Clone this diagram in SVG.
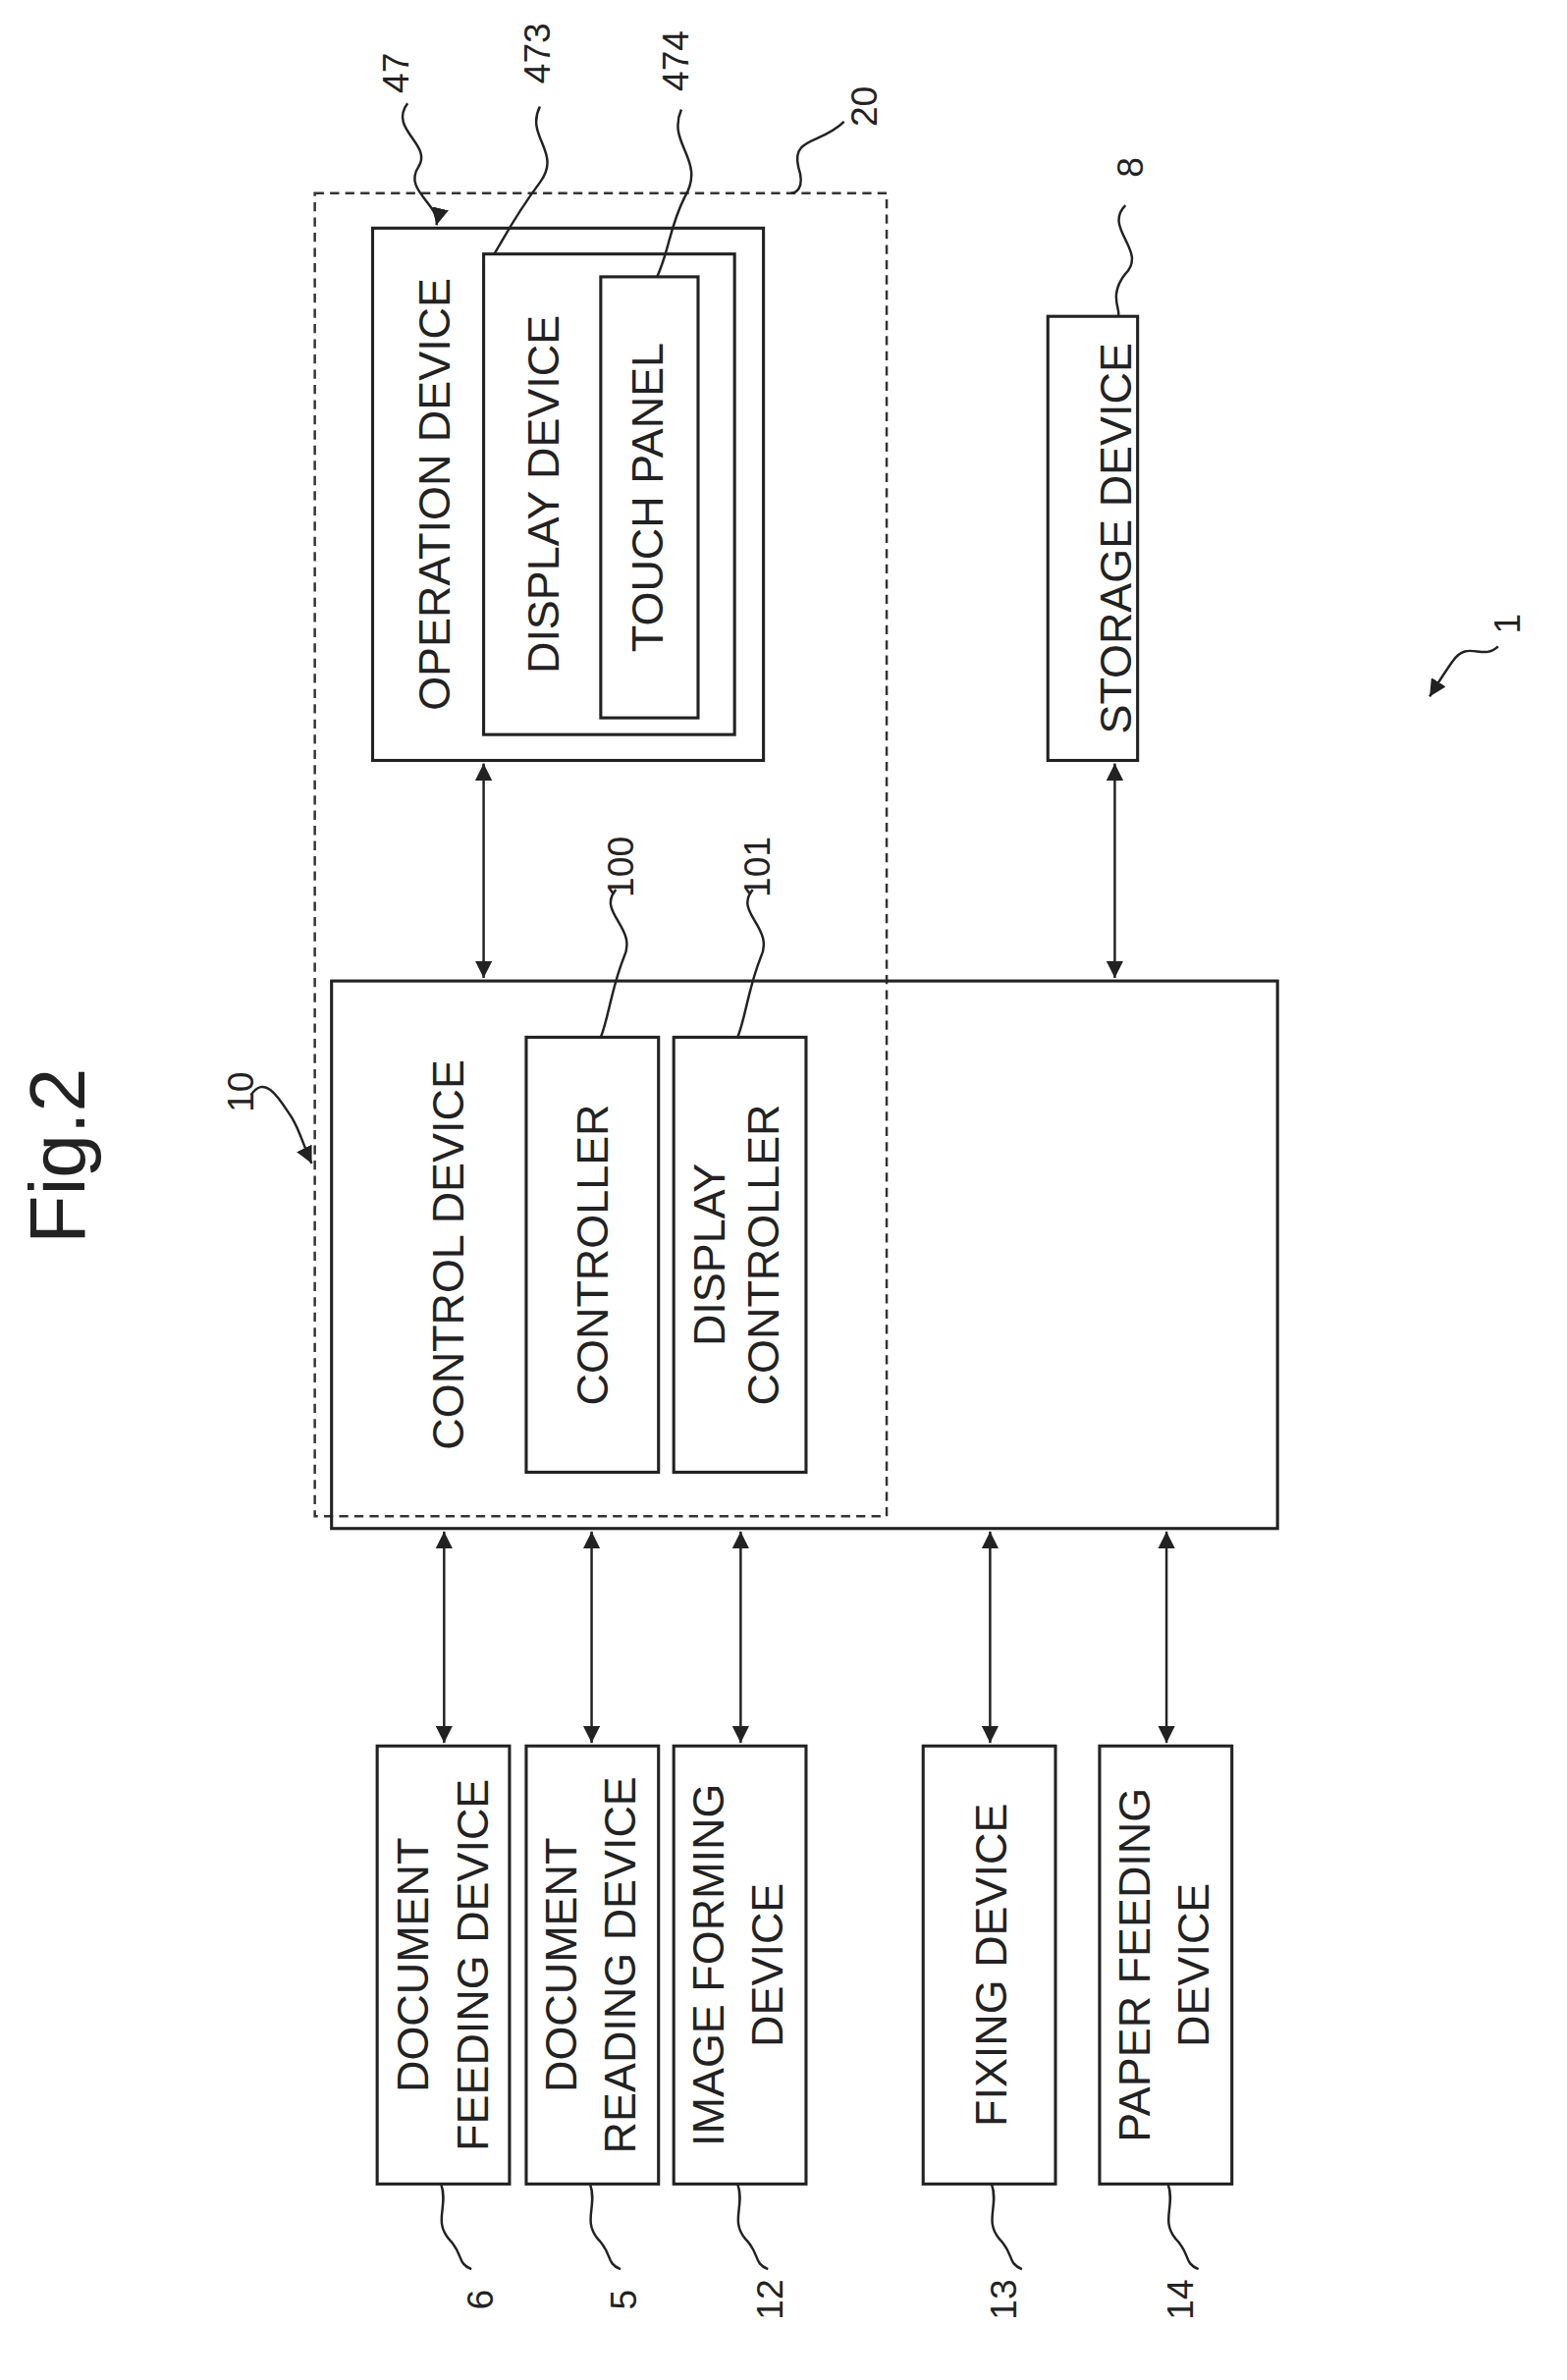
<svg xmlns="http://www.w3.org/2000/svg" width="1596" height="2424" viewBox="0 0 1596 2424">
<style>
.b{fill:none;stroke:#222;stroke-width:2}
.d{fill:none;stroke:#333;stroke-width:1.6;stroke-dasharray:6,4}
.l{fill:none;stroke:#222;stroke-width:1.6}
text{font-family:"Liberation Sans",Arial,sans-serif;font-size:29px;fill:#222;text-anchor:middle;dominant-baseline:middle}
.n{font-size:24px}
</style>
<defs>
<marker id="a" viewBox="0 0 10 10" refX="10" refY="5" markerWidth="7" markerHeight="7" orient="auto-start-reverse"><path d="M0,0 L10,5 L0,10 z" fill="#222"/></marker>
</defs>
<rect width="1596" height="2424" fill="#fff"/>
<g transform="scale(1.549)">
<text transform="translate(42,760) rotate(-90)" style="font-size:52px">Fig.2</text>
<g id="n20"><rect class="d" x="207" y="127" width="376" height="870"/></g>
<g id="n47"><rect class="b" x="245" y="150" width="257" height="350"/><text transform="translate(288,325) rotate(-90)">OPERATION DEVICE</text></g>
<g id="n473"><rect class="b" x="318" y="167" width="165" height="316"/><text transform="translate(360,325) rotate(-90)">DISPLAY DEVICE</text></g>
<g id="n474"><rect class="b" x="395" y="182" width="64" height="290"/><text transform="translate(428,327) rotate(-90)">TOUCH PANEL</text></g>
<g id="n8"><rect class="b" x="689" y="208" width="59" height="292"/><text transform="translate(736,354) rotate(-90)">STORAGE DEVICE</text></g>
<g id="n10"><rect class="b" x="218" y="645" width="622" height="360"/><text transform="translate(297,825) rotate(-90)">CONTROL DEVICE</text></g>
<g id="n100"><rect class="b" x="346" y="682" width="87" height="286"/><text transform="translate(392,825) rotate(-90)">CONTROLLER</text></g>
<g id="n101"><rect class="b" x="443" y="682" width="87" height="286"/><text transform="translate(469,825) rotate(-90)">DISPLAY</text><text transform="translate(504,825) rotate(-90)">CONTROLLER</text></g>
<g id="n6"><rect class="b" x="248" y="1148" width="87" height="288"/><text transform="translate(274,1292) rotate(-90)">DOCUMENT</text><text transform="translate(313,1292) rotate(-90)">FEEDING DEVICE</text></g>
<g id="n5"><rect class="b" x="346" y="1148" width="87" height="288"/><text transform="translate(371,1292) rotate(-90)">DOCUMENT</text><text transform="translate(410,1292) rotate(-90)">READING DEVICE</text></g>
<g id="n12"><rect class="b" x="443" y="1148" width="87" height="288"/><text transform="translate(468,1292) rotate(-90)">IMAGE FORMING</text><text transform="translate(507,1292) rotate(-90)">DEVICE</text></g>
<g id="n13"><rect class="b" x="607" y="1148" width="87" height="288"/><text transform="translate(654,1292) rotate(-90)">FIXING DEVICE</text></g>
<g id="n14"><rect class="b" x="723" y="1148" width="87" height="288"/><text transform="translate(748,1292) rotate(-90)">PAPER FEEDING</text><text transform="translate(787,1292) rotate(-90)">DEVICE</text></g>
<g id="connectors">
<line class="l" x1="318" y1="502" x2="318" y2="643" marker-start="url(#a)" marker-end="url(#a)"/>
<line class="l" x1="733" y1="502" x2="733" y2="643" marker-start="url(#a)" marker-end="url(#a)"/>
<line class="l" x1="292" y1="1007" x2="292" y2="1146" marker-start="url(#a)" marker-end="url(#a)"/>
<line class="l" x1="389" y1="1007" x2="389" y2="1146" marker-start="url(#a)" marker-end="url(#a)"/>
<line class="l" x1="487" y1="1007" x2="487" y2="1146" marker-start="url(#a)" marker-end="url(#a)"/>
<line class="l" x1="651" y1="1007" x2="651" y2="1146" marker-start="url(#a)" marker-end="url(#a)"/>
<line class="l" x1="767" y1="1007" x2="767" y2="1146" marker-start="url(#a)" marker-end="url(#a)"/>
<path class="l" d="M268,68 C255,85 285,95 275,110 C265,125 290,135 287,148" marker-end="url(#a)"/>
<path class="l" d="M355,70 C345,90 370,100 355,120 C340,140 335,150 325,167"/>
<path class="l" d="M448,72 C438,95 465,105 450,130 C440,150 440,165 432,182"/>
<path class="l" d="M555,80 C540,95 520,90 525,110 C530,125 522,127 520,127"/>
<path class="l" d="M740,135 C725,150 755,165 740,180 C728,195 738,205 735,208"/>
<path class="l" d="M985,425 C975,435 965,420 955,435 C948,445 945,450 940,458" marker-end="url(#a)"/>
<path class="l" d="M405,585 C392,600 420,610 410,630 C402,650 400,670 395,682"/>
<path class="l" d="M495,585 C482,600 510,610 500,630 C492,650 490,670 485,682"/>
<path class="l" d="M165,720 C175,705 185,725 192,735 C198,745 200,755 205,765" marker-end="url(#a)"/>
<path class="l" d="M290,1436 C295,1450 285,1460 295,1472 C305,1482 300,1488 310,1492"/>
<path class="l" d="M388,1436 C393,1450 383,1460 393,1472 C403,1482 398,1488 408,1492"/>
<path class="l" d="M485,1436 C490,1450 480,1460 490,1472 C500,1482 495,1488 505,1492"/>
<path class="l" d="M652,1436 C657,1450 647,1460 657,1472 C667,1482 662,1488 672,1492"/>
<path class="l" d="M768,1436 C773,1450 763,1460 773,1472 C783,1482 778,1488 788,1492"/>
</g>
<text class="n" transform="translate(262,48) rotate(-90)">47</text>
<text class="n" transform="translate(355,35) rotate(-90)">473</text>
<text class="n" transform="translate(446,40) rotate(-90)">474</text>
<text class="n" transform="translate(570,70) rotate(-90)">20</text>
<text class="n" transform="translate(745,110) rotate(-90)">8</text>
<text class="n" transform="translate(993,410) rotate(-90)">1</text>
<text class="n" transform="translate(410,570) rotate(-90)">100</text>
<text class="n" transform="translate(500,570) rotate(-90)">101</text>
<text class="n" transform="translate(160,718) rotate(-90)">10</text>
<text class="n" transform="translate(318,1512) rotate(-90)">6</text>
<text class="n" transform="translate(412,1512) rotate(-90)">5</text>
<text class="n" transform="translate(508,1512) rotate(-90)">12</text>
<text class="n" transform="translate(662,1512) rotate(-90)">13</text>
<text class="n" transform="translate(778,1512) rotate(-90)">14</text>
</g>
</svg>
